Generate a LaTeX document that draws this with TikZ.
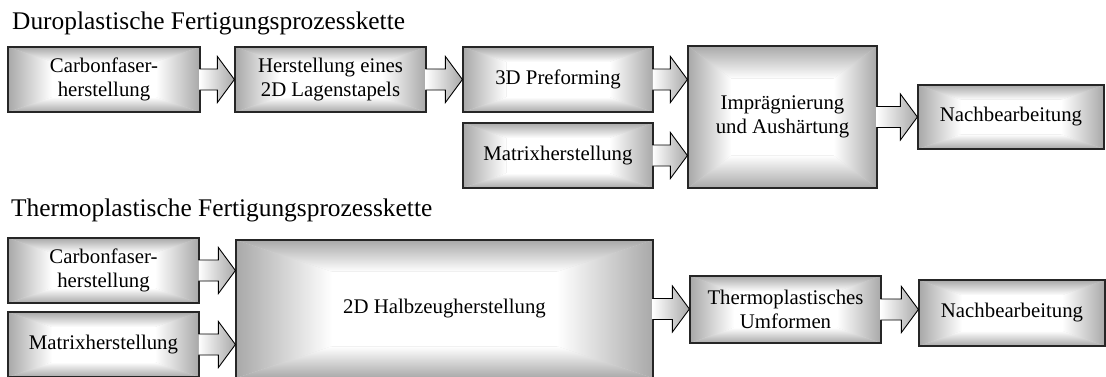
\documentclass[tikz,border=0pt]{standalone}
\usepackage{fontspec}
\setmainfont{Liberation Serif}
\usetikzlibrary{calc}
\colorlet{edgegray}{black!34}
\newcommand\boxfont{\fontsize{20.8pt}{24.5pt}\selectfont}
\newcommand\titlefont{\fontsize{25.4pt}{28pt}\selectfont}
\tikzset{
  gbox/.style={draw=black!85, line width=1.2pt, inner sep=0pt, align=center,
    font=\boxfont, minimum width=190pt, minimum height=65pt,
    path picture={
      \coordinate (ppNW) at (path picture bounding box.north west);
      \coordinate (ppNE) at (path picture bounding box.north east);
      \coordinate (ppSW) at (path picture bounding box.south west);
      \coordinate (ppSE) at (path picture bounding box.south east);
      \coordinate (iNW) at ($(ppNW)!0.23!(ppSE)$);
      \coordinate (iSE) at ($(ppSE)!0.23!(ppNW)$);
      \coordinate (iNE) at ($(ppNE)!0.23!(ppSW)$);
      \coordinate (iSW) at ($(ppSW)!0.23!(ppNE)$);
      \fill[black!15] (ppNW) rectangle (ppSE);
      \shade[left color=edgegray, right color=white] (ppNW) -- (ppSW) -- (iSW) -- (iNW) -- cycle;
      \shade[left color=white, right color=edgegray] (ppNE) -- (ppSE) -- (iSE) -- (iNE) -- cycle;
      \shade[top color=edgegray, bottom color=white] (ppNW) -- (ppNE) -- (iNE) -- (iNW) -- cycle;
      \shade[top color=white, bottom color=edgegray] (ppSW) -- (ppSE) -- (iSE) -- (iSW) -- cycle;
      \fill[white] (iNW) rectangle (iSE);
    }},
  arrowbody/.style={draw=black, line width=0.9pt, line join=miter, left color=white, right color=edgegray},
  titletext/.style={anchor=base west, inner sep=0pt, font=\titlefont}
}
\newcommand\blockarr[2]{%
  \draw[arrowbody] let \p1=(#1.east), \p2=(#2.west) in
    (\x1-1.3pt,\y1+10.5pt) -- (\x2-17pt,\y1+10.5pt) -- (\x2-17pt,\y1+23pt) --
    (\x2,\y1) -- (\x2-17pt,\y1-23pt) -- (\x2-17pt,\y1-10.5pt) -- (\x1-1.3pt,\y1-10.5pt);}
\begin{document}
\begin{tikzpicture}[x=1pt,y=-1pt]
\useasboundingbox (0,0) rectangle (1106,376);
\fill[white] (0,0) rectangle (1106,376);
% titles
\node[titletext] (title1) at (12,29) {Duroplastische Fertigungsprozesskette};
\node[titletext] (title2) at (11,216) {Thermoplastische Fertigungsprozesskette};
% row 1
\node[gbox, minimum width=192pt] (c1) at (104,79.5) {Carbonfaser-\\herstellung};
\node[gbox, minimum width=191pt] (h2) at (330.5,79.5) {Herstellung eines\\2D Lagenstapels};
\node[gbox] (p3) at (558,79.5) {3D Preforming};
\node[gbox] (m4) at (558,155.5) {Matrixherstellung};
\node[gbox, minimum width=189pt, minimum height=142pt] (i5) at (782.5,117) {Imprägnierung\\und Aushärtung};
\node[gbox, minimum width=186pt, minimum height=64pt] (n6) at (1011,117) {Nachbearbeitung};
% row 2
\node[gbox, minimum width=191pt] (c7) at (103.5,270.5) {Carbonfaser-\\herstellung};
\node[gbox, minimum width=191pt] (m8) at (103.5,344.5) {Matrixherstellung};
\node[gbox, minimum width=417pt, minimum height=138pt] (h9) at (444.5,309) {2D Halbzeugherstellung};
\node[gbox, minimum width=191pt, minimum height=67pt] (t10) at (785.5,309.5) {Thermoplastisches\\Umformen};
\node[gbox, minimum width=186pt, minimum height=66pt] (n11) at (1012,313) {Nachbearbeitung};
% arrows
\blockarr{c1}{h2}
\blockarr{h2}{p3}
\blockarr{p3}{i5}
\blockarr{m4}{i5}
\blockarr{i5}{n6}
\blockarr{c7}{h9}
\blockarr{m8}{h9}
\blockarr{h9}{t10}
\blockarr{t10}{n11}
\end{tikzpicture}
\end{document}
